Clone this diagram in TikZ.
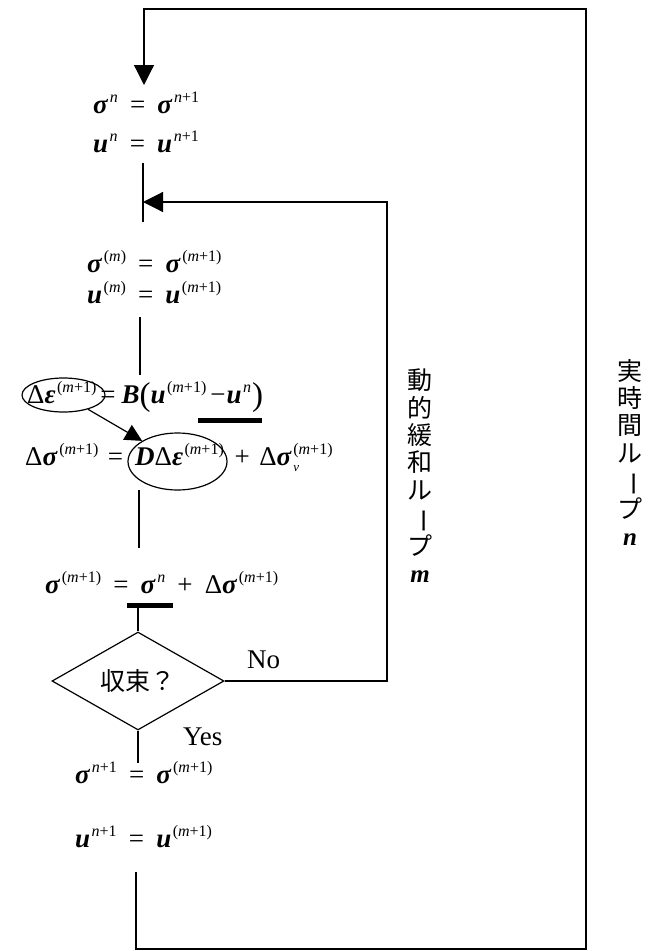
\documentclass[tikz,border=0pt]{standalone}
\usepackage{fontspec}
\setmainfont{Liberation Serif}
\newfontfamily\jpfont{Noto Sans CJK JP}
\usetikzlibrary{arrows.meta,shapes.geometric}
\newcommand\bi[1]{\textbf{\textit{#1}}}
\newcommand\SP[1]{\kern1.5pt\raisebox{11pt}{\fontsize{16}{16}\selectfont #1}}
\newcommand\SPB[2]{\kern1.5pt\rlap{\raisebox{-6pt}{\fontsize{13}{13}\selectfont #2}}\raisebox{11pt}{\fontsize{16}{16}\selectfont #1}}
\newcommand\BP[1]{\raisebox{-2.5pt}{\fontsize{33}{33}\selectfont #1}}
\newcommand\mo{(\textit{m}+1)}
\newcommand\eqs{\hspace{0.45em}=\hspace{0.45em}}
\newcommand\pls{\hspace{0.45em}+\hspace{0.45em}}
\begin{document}
\begin{tikzpicture}[x=1pt,y=-1pt,
  ln/.style={line width=1.2pt},
  tip/.style={-{Triangle[length=20pt,width=20pt]}},
  smalltip/.style={-{Triangle[length=17pt,width=17pt]}},
  eq/.style={anchor=base west,inner sep=0,font=\fontsize{27}{29}\selectfont},
  lbl/.style={anchor=base west,inner sep=0,font=\fontsize{27}{28}\selectfont},
  ring/.style={draw,ellipse,line width=1.2pt,inner sep=0},
  vtxt/.style={align=center,inner sep=0,anchor=north,font=\jpfont\fontsize{25}{27.3}\selectfont}]
\useasboundingbox (0,0) rectangle (650,951);
% equations
\node[eq] (s1) at (93,113) {\bi{σ}\SP{\textit{n}}\eqs\bi{σ}\SP{\textit{n}+1}};
\node[eq] (u1) at (93,152) {\bi{u}\SP{\textit{n}}\eqs\bi{u}\SP{\textit{n}+1}};
\node[eq] (s2) at (87,272) {\bi{σ}\SP{(\textit{m})}\eqs\bi{σ}\SP{\mo}};
\node[eq] (u2) at (87,303) {\bi{u}\SP{(\textit{m})}\eqs\bi{u}\SP{\mo}};
\node[eq] (q1) at (27,403) {Δ\bi{ε}\SP{\mo}\kern4pt=\kern6pt\bi{B}\BP{(}\bi{u}\SP{\mo}\kern4pt−\kern1pt\bi{u}\SP{\textit{n}}\kern1pt\BP{)}};
\node[eq] (q2) at (25,465) {Δ\bi{σ}\SP{\mo}\hspace{0.35em}=\kern12pt\bi{D}Δ\bi{ε}\SP{\mo}\hspace{0.4em}+\hspace{0.35em}Δ\bi{σ}\SPB{\mo}{\textit{v}}};
\node[eq] (q3) at (45,593) {\bi{σ}\SP{\mo}\eqs\bi{σ}\SP{\textit{n}}\pls Δ\bi{σ}\SP{\mo}};
\node[eq] (s3) at (75,783) {\bi{σ}\SP{\textit{n}+1}\eqs\bi{σ}\SP{\mo}};
\node[eq] (u3) at (75,847) {\bi{u}\SP{\textit{n}+1}\eqs\bi{u}\SP{\mo}};
% rings and bars
\node[ring,minimum width=83pt,minimum height=34pt] (r1) at (63.5,395) {};
\node[ring,minimum width=99pt,minimum height=57pt] (r2) at (177.5,461.5) {};
\draw[ln,smalltip] (r1) -- (r2);
\fill (198,417.5) rectangle (262,423);
\fill (127,603) rectangle (173,608);
% decision
\node[draw,diamond,ln,minimum width=172pt,minimum height=76pt,inner sep=0,
  font=\jpfont\fontsize{25}{25}\selectfont] (conv) at (138,681) {収束？};
\node[lbl] (no) at (247,668) {No};
\node[lbl] (yes) at (183,745) {Yes};
% coordinates
\coordinate (t0) at (144,85);
\coordinate (c1) at (144,9);
\coordinate (c2) at (586,9);
\coordinate (c3) at (586,949);
\coordinate (c4) at (136,949);
\coordinate (c5) at (136,872);
\coordinate (i0) at (143,202);
\coordinate (i1) at (387,202);
\coordinate (i2) at (387,681);
% connectors
\draw[ln,tip] (c5) -- (c4) -- (c3) -- (c2) -- (c1) -- (t0);
\draw[ln,tip] (conv.east) -- (i2) -- (i1) -- (i0);
\draw[ln] (143,163) -- (143,222);
\draw[ln] (140,317) -- (140,375);
\draw[ln] (139,490) -- (139,548);
\draw[ln] (138,608) -- (conv.north);
\draw[ln] (conv.south) -- (138,763);
% loop labels
\node[vtxt] (lm) at (420,369) {動\\的\\緩\\和\\ル\\\rotatebox[origin=c]{-90}{ー}\\プ\\{\rmfamily\bi{m}}};
\node[vtxt] (ln) at (630,359) {実\\時\\間\\ル\\\rotatebox[origin=c]{-90}{ー}\\プ\\{\rmfamily\bi{n}}};
\end{tikzpicture}
\end{document}
